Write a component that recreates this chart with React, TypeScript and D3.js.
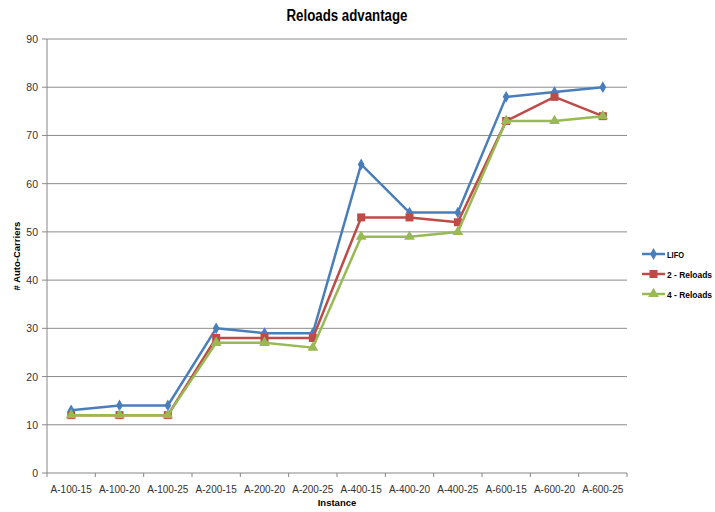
import React from "react";
import * as d3 from "d3";

const categories = ["A-100-15","A-100-20","A-100-25","A-200-15","A-200-20","A-200-25","A-400-15","A-400-20","A-400-25","A-600-15","A-600-20","A-600-25"];
const lifo = [13,14,14,30,29,29,64,54,54,78,79,80];
const reloads2 = [12,12,12,28,28,28,53,53,52,73,78,74];
const reloads4 = [12,12,12,27,27,26,49,49,50,73,73,74];
const yTicks = [0,10,20,30,40,50,60,70,80,90];
const seriesNames = ["LIFO","2 - Reloads","4 - Reloads"];
const seriesColors = ["#4A7EBB","#BE4B48","#98B954"];

const W = 715, H = 512;
const left = 47, right = 627, top = 39, bottom = 473;
const font = "'Liberation Sans', Arial, sans-serif";

function Marker({ kind, x, y, color }: { kind: number; x: number; y: number; color: string }) {
  if (kind === 0) {
    const s = d3.symbol(d3.symbolDiamond, 40)();
    return <path d={s!} transform={`translate(${x},${y})`} fill={color} />;
  }
  if (kind === 1) {
    return <rect x={x - 4} y={y - 4} width={8} height={8} fill={color} />;
  }
  const s = d3.symbol(d3.symbolTriangle, 50)();
  return <path d={s!} transform={`translate(${x},${y})`} fill={color} />;
}

export default function App() {
  const x = d3.scaleBand<string>().domain(categories).range([left, right]);
  const y = d3.scaleLinear().domain([0, 90]).range([bottom, top]);
  const cx = (c: string) => (x(c) as number) + x.bandwidth() / 2;
  const series = [lifo, reloads2, reloads4];
  const line = d3.line<number>().x((_, i) => cx(categories[i])).y((d) => y(d));
  const legendY = [254, 274, 294];

  return (
    <svg width={W} height={H} style={{ position: "absolute", left: 0, top: 0, background: "#fff" }}>
      <rect width={W} height={H} fill="#fff" />
      <text x={347} y={21} textAnchor="middle" fontFamily={font} fontWeight="bold" fontSize={16} fill="#000"
        textLength={121} lengthAdjust="spacingAndGlyphs">Reloads advantage</text>
      {yTicks.map((t) => (
        <g key={t}>
          <line x1={left - 5} x2={right} y1={y(t)} y2={y(t)} stroke={t === 0 ? "#868686" : "#8c8c8c"} strokeWidth={1} />
          <text x={38} y={y(t) + 4} textAnchor="end" fontFamily={font} fontSize={10.5} fill="#333">{t}</text>
        </g>
      ))}
      <line x1={left} x2={left} y1={top} y2={bottom} stroke="#868686" />
      {categories.map((c, i) => (
        <line key={"tk" + i} x1={(x(c) as number) + x.bandwidth()} x2={(x(c) as number) + x.bandwidth()} y1={bottom} y2={bottom + 4} stroke="#868686" />
      ))}
      <line x1={left} x2={left} y1={bottom} y2={bottom + 4} stroke="#868686" />
      {categories.map((c) => (
        <text key={c} x={cx(c)} y={bottom + 20} textAnchor="middle" fontFamily={font} fontSize={10} fill="#333">{c}</text>
      ))}
      <text x={337} y={506} textAnchor="middle" fontFamily={font} fontWeight="bold" fontSize={9.5} fill="#000">Instance</text>
      <text transform={`translate(20,${(top + bottom) / 2}) rotate(-90)`} textAnchor="middle" fontFamily={font} fontWeight="bold" fontSize={9.5} fill="#000"># Auto-Carriers</text>
      {series.map((s, k) => (
        <g key={k}>
          <path d={line(s)!} fill="none" stroke={seriesColors[k]} strokeWidth={2.5} strokeLinejoin="round" />
          {s.map((v, i) => (
            <Marker key={i} kind={k} x={cx(categories[i])} y={y(v)} color={seriesColors[k]} />
          ))}
        </g>
      ))}
      {seriesNames.map((n, k) => (
        <g key={n}>
          <line x1={642} x2={665} y1={legendY[k]} y2={legendY[k]} stroke={seriesColors[k]} strokeWidth={2.5} />
          <Marker kind={k} x={653.5} y={legendY[k]} color={seriesColors[k]} />
          <text x={667} y={legendY[k] + 3.5} fontFamily={font} fontWeight="bold" fontSize={9} fill="#000"
            textLength={k === 0 ? 17 : 45} lengthAdjust="spacingAndGlyphs">{n}</text>
        </g>
      ))}
    </svg>
  );
}
